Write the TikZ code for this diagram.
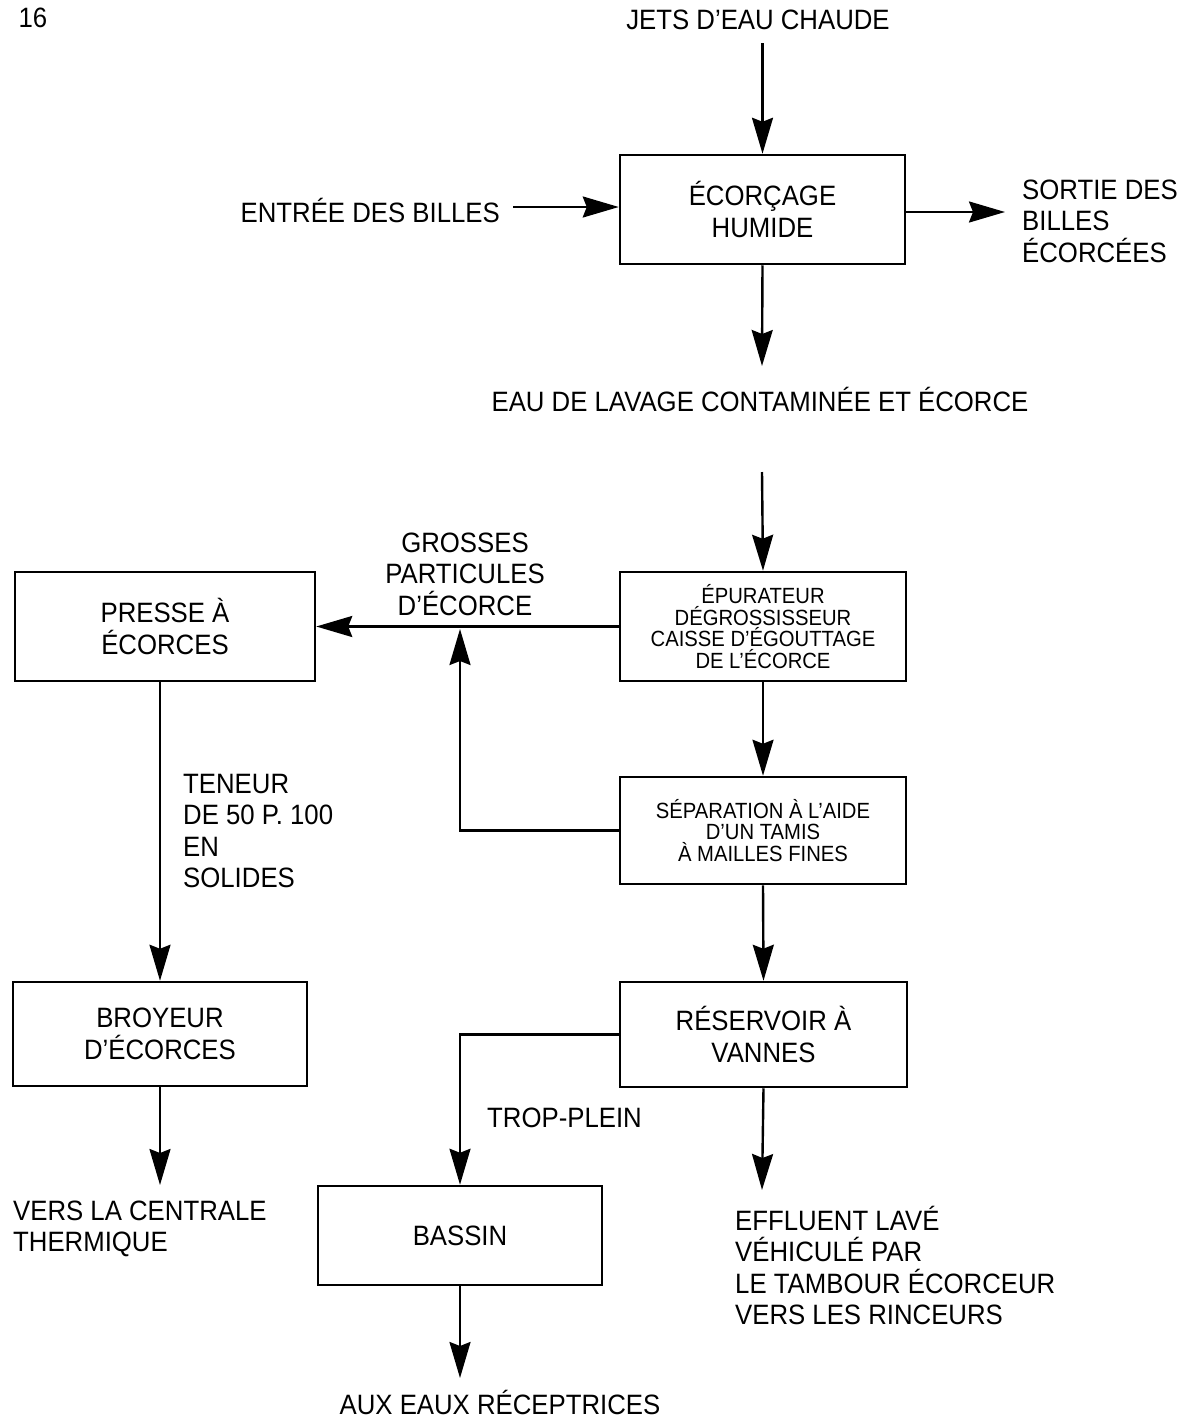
\documentclass[tikz,border=0pt]{standalone}
\usepackage{fontspec}
\setmainfont[FakeStretch=0.92]{Liberation Sans}
\usetikzlibrary{arrows.meta}
\begin{document}
\begin{tikzpicture}[x=1pt,y=-1pt,
  big/.style={font=\fontsize{28}{31.5}\selectfont, inner sep=0pt},
  small/.style={font=\fontsize{22}{21.5}\selectfont, inner sep=0pt},
  box/.style={draw, line width=2.5pt, align=center, inner sep=0pt},
  arr/.style={line width=2.4pt, -{Stealth[length=36pt,width=21pt,inset=4pt]}},
  ln/.style={line width=2.4pt}]
\useasboundingbox (0,0) rectangle (1191,1419);

\node[big] (num) at (33,18) {16};
\node[big] (jets) at (758,20) {JETS D’EAU CHAUDE};
\node[box,big,minimum width=285pt,minimum height=109pt] (ecor) at (762.5,209.5) {ÉCORÇAGE\\HUMIDE};
\node[big,anchor=east] (entree) at (500,210) {ENTRÉE DES BILLES};
\node[big,anchor=west,align=left] (sortie) at (1022,221) {SORTIE DES\\BILLES\\ÉCORCÉES};
\node[big] (eau) at (760,399) {EAU DE LAVAGE CONTAMINÉE ET ÉCORCE};
\coordinate (sortieTip) at (1005,212);
\coordinate (eauTip) at (762,366);
\coordinate (eauStart) at (762,472);

\node[box,small,minimum width=286pt,minimum height=109pt] (epur) at (763,626.5) {ÉPURATEUR\\DÉGROSSISSEUR\\CAISSE D’ÉGOUTTAGE\\DE L’ÉCORCE};
\node[box,big,minimum width=300pt,minimum height=109pt] (presse) at (165,626.5) {PRESSE À\\ÉCORCES};
\node[big,align=center] (grosses) at (465,574) {GROSSES\\PARTICULES\\D’ÉCORCE};
\node[box,small,minimum width=286pt,minimum height=107pt] (sep) at (763,830.5) {SÉPARATION À L’AIDE\\D’UN TAMIS\\À MAILLES FINES};
\coordinate (jn) at (460,629);
\node[big,anchor=west,align=left] (teneur) at (183,831) {TENEUR\\DE 50 P. 100\\EN\\SOLIDES};

\node[box,big,minimum width=287pt,minimum height=105pt] (res) at (763.5,1034.5) {RÉSERVOIR À\\VANNES};
\node[box,big,minimum width=294pt,minimum height=104pt] (broy) at (160,1034) {BROYEUR\\D’ÉCORCES};
\node[big,anchor=west] (trop) at (487,1118) {TROP-PLEIN};
\node[box,big,minimum width=284pt,minimum height=99pt] (bassin) at (460,1235.5) {BASSIN};
\node[big,anchor=west,align=left] (effl) at (735,1265.5) {EFFLUENT LAVÉ\\VÉHICULÉ PAR\\LE TAMBOUR ÉCORCEUR\\VERS LES RINCEURS};
\node[big,anchor=west,align=left] (vers) at (13,1229) {VERS LA CENTRALE\\THERMIQUE};
\node[big] (aux) at (500,1402) {AUX EAUX RÉCEPTRICES};
\coordinate (effTip) at (762,1190);
\coordinate (versTip) at (160,1185);
\coordinate (auxTip) at (460,1378);

\draw[arr] (ecor.north |- jets.south) ++(0,13) -- (ecor.north);
\draw[arr] ([xshift=13pt,yshift=3pt]entree.east) -- ([yshift=3pt]entree.east -| ecor.west);
\draw[arr] (ecor.east |- sortieTip) -- (sortieTip);
\draw[arr] (ecor.south) -- (eauTip);
\draw[arr] (eauStart) -- (epur.north);
\draw[arr] (epur.west) -- (presse.east);
\draw[arr] (sep.west) -| (jn);
\draw[arr] (epur.south) -- (sep.north);
\draw[arr] (sep.south) -- (res.north);
\draw[arr] (res.west) -| (bassin.north);
\draw[arr] (res.south) -- (effTip);
\draw[arr] (bassin.south) -- (auxTip);
\draw[arr] (presse.south -| broy.north) -- (broy.north);
\draw[arr] (broy.south) -- (versTip);
\end{tikzpicture}
\end{document}
